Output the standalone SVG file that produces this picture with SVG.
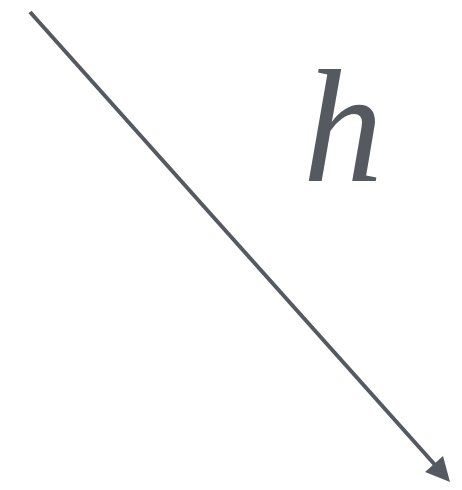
<svg xmlns="http://www.w3.org/2000/svg" width="462" height="490" viewBox="0 0 462 490">
<style>
.edge{stroke:#555a61;stroke-width:4;fill:none}
.head{fill:#555a61}
.lbl{font-family:"Liberation Serif","Times New Roman",serif;font-style:italic;fill:#555a61}
</style>
<rect width="462" height="490" fill="#ffffff"/>
<g id="connectors">
<line class="edge" x1="30" y1="12" x2="436" y2="466"/>
<polygon class="head" points="450,482 425,472 443,456"/>
</g>
<g id="label-h">
<text class="lbl" x="303" y="181" font-size="160">h</text>
</g>
</svg>
